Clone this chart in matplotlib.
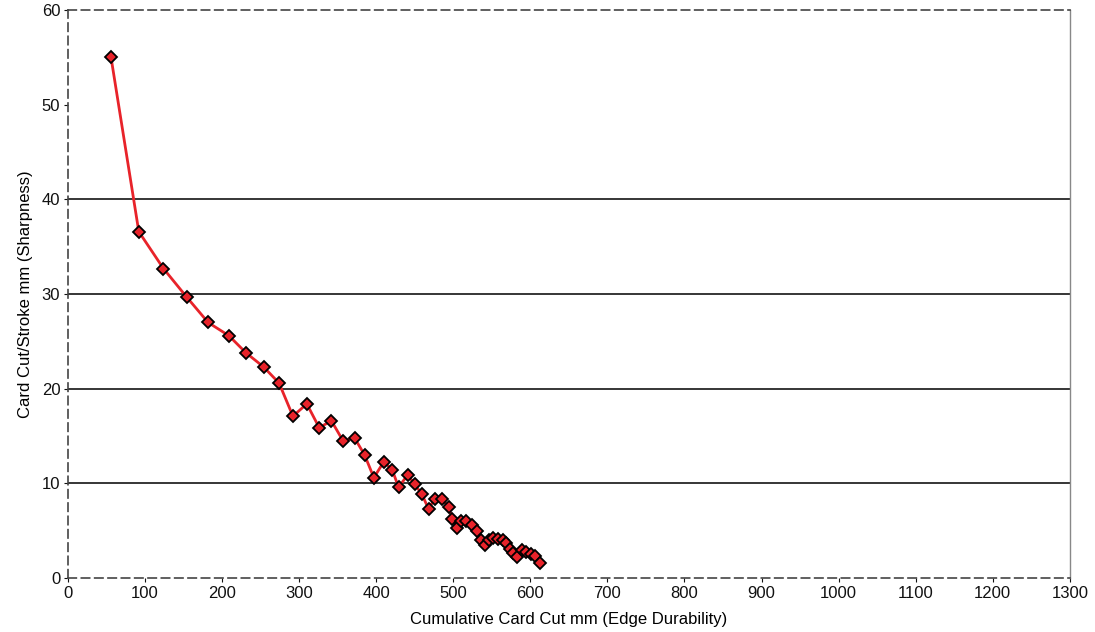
import matplotlib.pyplot as plt
import numpy as np

plt.rcParams['font.family'] = ['Liberation Sans', 'DejaVu Sans']

# cumulative card cut (mm) vs card cut per stroke (mm)
cum_cut = [56, 92, 124, 154, 182, 209, 231, 254, 274, 292, 310, 326, 342, 357, 372,
           385, 397, 410, 421, 429, 441, 450, 459, 468, 476, 485, 494, 499, 505, 510,
           517, 524, 531, 536, 541, 546, 551, 558, 564, 569, 573, 577, 583, 589, 595,
           601, 606, 613]
cut_stroke = [55.0, 36.6, 32.7, 29.7, 27.0, 25.6, 23.8, 22.3, 20.6, 17.1, 18.4, 15.9, 16.6,
              14.5, 14.8, 13.0, 10.6, 12.3, 11.4, 9.6, 10.9, 9.9, 8.9, 7.3, 8.4, 8.4,
              7.5, 6.2, 5.3, 6.0, 6.0, 5.6, 5.0, 4.0, 3.5, 4.0, 4.2, 4.1, 4.0, 3.7,
              3.1, 2.6, 2.2, 3.0, 2.8, 2.5, 2.3, 1.6]
grid_levels = [10, 20, 30, 40]
xticks = np.arange(0, 1301, 100)
yticks = np.arange(0, 61, 10)

fig = plt.figure(figsize=(10.95, 6.32), dpi=100)
ax = fig.add_axes([0.062, 0.0854, 0.915, 0.8985])

for g in grid_levels:
    ax.axhline(g, color='black', lw=1.1, zorder=1)

ax.plot(cum_cut, cut_stroke, color='#e8232a', lw=2.0, marker='D', ms=6.3,
        markerfacecolor='#e8232a', markeredgecolor='black', markeredgewidth=1.3, zorder=3)

ax.set_xlim(0, 1300)
ax.set_ylim(0, 60)
ax.set_xticks(xticks)
ax.set_yticks(yticks)
ax.tick_params(labelsize=12, length=3, width=0.8, colors='#111111', pad=2.5)

for s in ['left', 'top', 'bottom']:
    ax.spines[s].set_linestyle((0, (5, 3)))
    ax.spines[s].set_color('#444444')
    ax.spines[s].set_linewidth(1.2)
ax.spines['right'].set_color('#888888')
ax.spines['right'].set_linewidth(1.0)

ax.set_xlabel('Cumulative Card Cut mm (Edge Durability)', fontsize=12, labelpad=8)
ax.set_ylabel('Card Cut/Stroke mm (Sharpness)', fontsize=12, labelpad=6)

fig.savefig('out.png', dpi=100)
